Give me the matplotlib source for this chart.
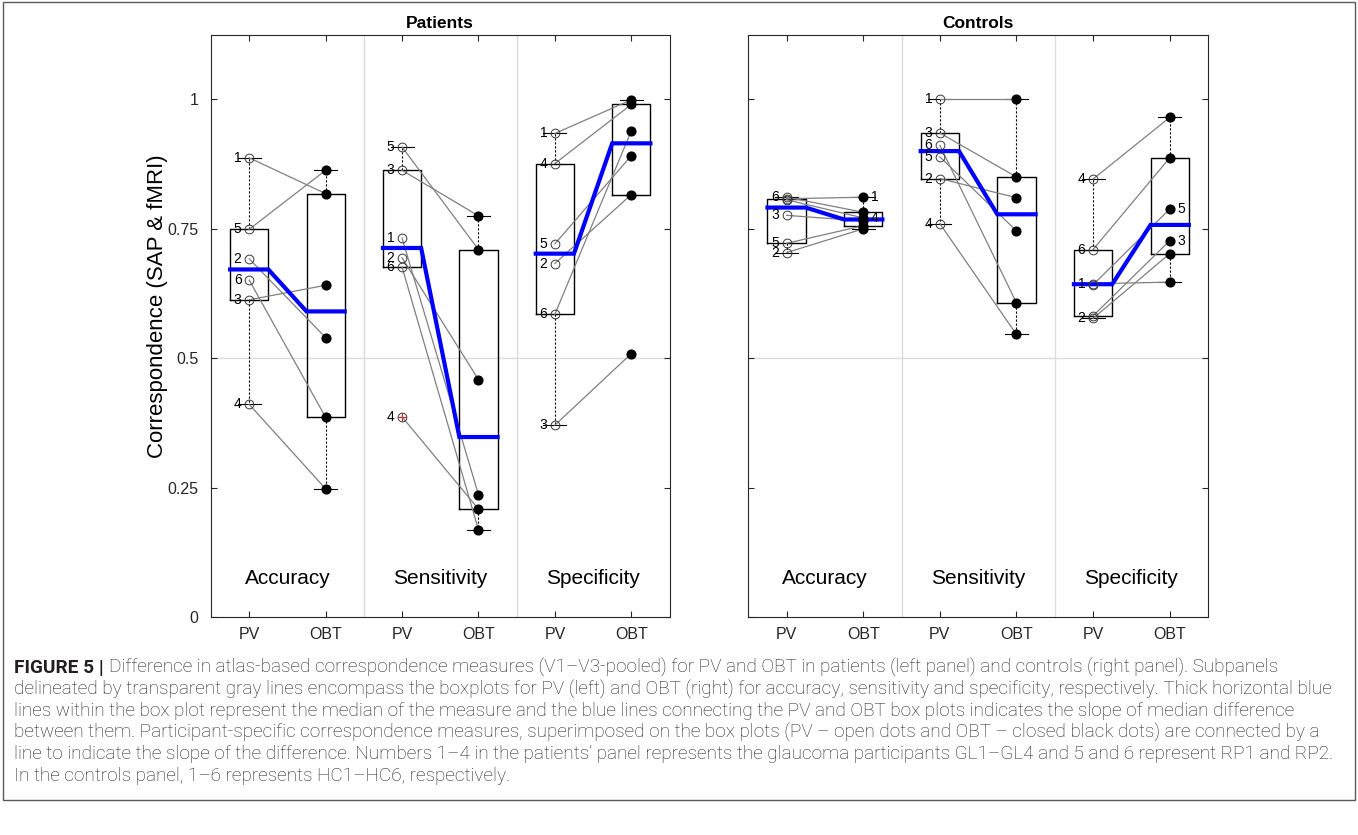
import numpy as np
import matplotlib
matplotlib.use('Agg')
import matplotlib.pyplot as plt
from matplotlib.patches import Rectangle

plt.rcParams['font.family'] = ['Liberation Sans', 'DejaVu Sans']

W, H = 1358, 835

measures = ['Accuracy', 'Sensitivity', 'Specificity']
tick_labels = ['PV', 'OBT', 'PV', 'OBT', 'PV', 'OBT']
participants = ['1', '2', '3', '4', '5', '6']

# patients: 1-4 = GL1-GL4, 5-6 = RP1-RP2
pat_acc_pv = [0.887, 0.692, 0.613, 0.411, 0.749, 0.651]
pat_acc_obt = [0.818, 0.540, 0.641, 0.248, 0.863, 0.386]
pat_sens_pv = [0.732, 0.694, 0.863, 0.387, 0.908, 0.676]
pat_sens_obt = [0.237, 0.459, 0.775, 0.209, 0.710, 0.169]
pat_spec_pv = [0.934, 0.683, 0.371, 0.876, 0.721, 0.585]
pat_spec_obt = [0.999, 0.816, 0.509, 0.990, 0.891, 0.939]

# controls: HC1-HC6
con_acc_pv = [0.808, 0.704, 0.776, 0.806, 0.722, 0.811]
con_acc_obt = [0.811, 0.750, 0.765, 0.771, 0.756, 0.782]
con_sens_pv = [1.000, 0.847, 0.935, 0.760, 0.889, 0.911]
con_sens_obt = [1.000, 0.810, 0.850, 0.546, 0.746, 0.607]
con_spec_pv = [0.644, 0.577, 0.582, 0.846, 0.642, 0.710]
con_spec_obt = [0.647, 0.702, 0.727, 0.965, 0.788, 0.887]

# side on which each participant number is written
pat_label_side = [['PV'] * 6, ['PV'] * 6, ['PV'] * 6]
con_label_side = [['OBT', 'PV', 'PV', 'OBT', 'PV', 'PV'],
                  ['PV'] * 6,
                  ['PV', 'PV', 'OBT', 'PV', 'OBT', 'PV']]

caption_head = 'FIGURE 5 |'
caption_lines = [
    'Difference in atlas-based correspondence measures (V1\u2013V3-pooled) for PV and OBT in patients (left panel) and controls (right panel). Subpanels',
    'delineated by transparent gray lines encompass the boxplots for PV (left) and OBT (right) for accuracy, sensitivity and specificity, respectively. Thick horizontal blue',
    'lines within the box plot represent the median of the measure and the blue lines connecting the PV and OBT box plots indicates the slope of median difference',
    'between them. Participant-specific correspondence measures, superimposed on the box plots (PV \u2013 open dots and OBT \u2013 closed black dots) are connected by a',
    'line to indicate the slope of the difference. Numbers 1\u20134 in the patients\u2019 panel represents the glaucoma participants GL1\u2013GL4 and 5 and 6 represent RP1 and RP2.',
    'In the controls panel, 1\u20136 represents HC1\u2013HC6, respectively.',
]


def box_stats(vals):
    # matlab style quartiles and 1.5 IQR whiskers
    v = np.sort(np.asarray(vals))
    n = len(v)
    prc = lambda p: np.interp(p * n + 0.5, np.arange(1, n + 1), v)
    q1, med, q3 = prc(0.25), prc(0.5), prc(0.75)
    iqr = q3 - q1
    ok = (v >= q1 - 1.5 * iqr) & (v <= q3 + 1.5 * iqr)
    return dict(q1=q1, med=med, q3=q3, whislo=v[ok].min(), whishi=v[ok].max(),
                fliers=v[~ok])


def draw_panel(ax, pairs, label_side, title, ylabels):
    ax.axhline(0.5, color='#dcdcdc', lw=1, zorder=0)
    for xv in (2.5, 4.5):
        ax.axvline(xv, color='#dcdcdc', lw=1, zorder=0)

    stats = []
    for pv, obt in pairs:
        stats += [box_stats(pv), box_stats(obt)]
    ax.bxp(stats, positions=range(1, 7), widths=0.5, capwidths=0.3,
           boxprops=dict(color='k', lw=1.0),
           whiskerprops=dict(color='k', lw=0.8, ls=(0, (2, 1.6))),
           capprops=dict(color='k', lw=0.8),
           medianprops=dict(color='none', lw=0),
           flierprops=dict(marker='+', markeredgecolor='red', markersize=5.5, mew=0.8),
           zorder=2)

    for k, (pv, obt) in enumerate(pairs):
        xp, xo = 2 * k + 1, 2 * k + 2
        for i in range(len(pv)):
            ax.plot([xp, xo], [pv[i], obt[i]], color='#808080', lw=0.9, zorder=3)
        m1, m2 = stats[2 * k]['med'], stats[2 * k + 1]['med']
        ax.plot([xp - 0.25, xp + 0.25, xo - 0.25, xo + 0.25], [m1, m1, m2, m2],
                color='#0000ff', lw=3, zorder=4, solid_joinstyle='miter')
        ax.plot([xp] * len(pv), pv, 'o', mfc='none', mec='#3a3a3a', ms=6.3, mew=0.7, zorder=6)
        ax.plot([xo] * len(obt), obt, 'o', mfc='k', mec='k', ms=6.3, zorder=6)
        for i, lab in enumerate(participants):
            if label_side[k][i] == 'PV':
                ax.text(xp - 0.1, pv[i], lab, ha='right', va='center', fontsize=10, zorder=7)
            else:
                ax.text(xo + 0.1, obt[i], lab, ha='left', va='center', fontsize=10, zorder=7)
        ax.text(2 * k + 1.5, 0.074, measures[k], ha='center', va='center', fontsize=15)

    ax.set_xlim(0.5, 6.5)
    ax.set_ylim(0, 1.125)
    ax.set_xticks(range(1, 7))
    ax.set_xticklabels(tick_labels)
    ax.set_yticks([0, 0.25, 0.5, 0.75, 1])
    if ylabels:
        ax.set_yticklabels(['0', '0.25', '0.5', '0.75', '1'])
        ax.set_ylabel('Correspondence (SAP & fMRI)', fontsize=16)
        ax.yaxis.set_label_coords(-0.094, 0.534)
    else:
        ax.set_yticklabels([])
    ax.tick_params(direction='in', top=True, right=True, length=4, width=0.8,
                   color='#262626', labelsize=11.5, labelcolor='#262626')
    ax.tick_params(axis='x', pad=7)
    ax.tick_params(axis='y', pad=9)
    for s in ax.spines.values():
        s.set_color('#262626')
        s.set_linewidth(0.8)
    ax.set_title(title, fontsize=12.5, fontweight='bold', pad=5)


fig = plt.figure(figsize=(W / 100, H / 100), dpi=100)
ax1 = fig.add_axes([211 / W, 217.7 / H, 458.5 / W, 582.75 / H])
ax2 = fig.add_axes([748.3 / W, 217.7 / H, 459.7 / W, 582.75 / H])

draw_panel(ax1, [(pat_acc_pv, pat_acc_obt), (pat_sens_pv, pat_sens_obt),
                 (pat_spec_pv, pat_spec_obt)], pat_label_side, 'Patients', True)
draw_panel(ax2, [(con_acc_pv, con_acc_obt), (con_sens_pv, con_sens_obt),
                 (con_spec_pv, con_spec_obt)], con_label_side, 'Controls', False)

# caption, sized so that the longest line ends where it does in the reference
renderer = fig.canvas.get_renderer()
cap_font = ['Roboto', 'Liberation Sans', 'DejaVu Sans']
cap_color = '#231f20'
x0, y_first, dy = 14, 673, 21.6
size = 11.0
head = fig.text(x0 / W, 1 - y_first / H, caption_head, fontsize=size, fontweight='bold',
                family=cap_font, color=cap_color, va='baseline')
texts = [fig.text(0, 1 - (y_first + i * dy) / H, line, fontsize=size, fontweight='light',
                  family=cap_font, color=cap_color, va='baseline')
         for i, line in enumerate(caption_lines)]


def place(size):
    head.set_fontsize(size)
    gap = 0.3 * size * 100 / 72
    hw = head.get_window_extent(renderer).width + gap
    ends = []
    for i, t in enumerate(texts):
        t.set_fontsize(size)
        start = x0 + (hw if i == 0 else 0)
        t.set_x(start / W)
        ends.append(start + t.get_window_extent(renderer).width)
    return max(ends)


end = place(size)
size = size * (1325 - x0) / (end - x0)
place(size)

fig.add_artist(Rectangle((3 / W, 1 - 800 / H), 1352 / W, 798 / H, transform=fig.transFigure,
                         fill=False, ec='#5a5a5a', lw=1))

fig.savefig('out.png', dpi=100)
